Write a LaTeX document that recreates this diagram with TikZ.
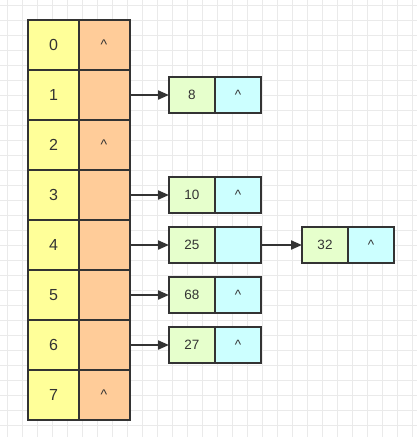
\documentclass[tikz,border=0pt]{standalone}
\usepackage{fontspec}
\setmainfont{Liberation Sans}
\usepackage{tikz}
\usetikzlibrary{arrows.meta}
\usepackage{xcolor}

\definecolor{idxfill}{HTML}{FFFF99}
\definecolor{ptrfill}{HTML}{FFCC99}
\definecolor{keyfill}{HTML}{E6FFCC}
\definecolor{nextfill}{HTML}{CCFFFF}
\definecolor{ink}{HTML}{333333}
\definecolor{gridgray}{HTML}{EAEAEA}

\begin{document}
\begin{tikzpicture}[x=1pt, y=-1pt, >={Triangle[length=11pt,width=9pt]},
  every node/.style={text=ink, inner sep=0pt, outer sep=0pt},
  cell/.style={draw=ink, line width=2pt, minimum width=51pt, minimum height=50pt, font=\fontsize{16}{16}\selectfont},
  entry/.style={draw=ink, line width=2pt, minimum width=46pt, minimum height=36pt, font=\fontsize{13.5}{13.5}\selectfont}]

% Canvas and grid
\useasboundingbox (0,0) rectangle (417,437);
\fill[white] (0,0) rectangle (417,437);
\foreach \gx in {7,22,...,412} {
  \draw[gridgray, line width=0.8pt] (\gx,0) -- (\gx,437);
}
\foreach \gy in {5,20,...,435} {
  \draw[gridgray, line width=0.8pt] (0,\gy) -- (417,\gy);
}

% Bucket table
\foreach \i in {0,...,7} {
  \node[cell, fill=idxfill] at (53.5,45+50*\i) (idx\i) {\i};
}
\foreach \i/\txt in {0/\^{},1/,2/\^{},3/,4/,5/,6/,7/\^{}} {
  \node[cell, fill=ptrfill, font=\fontsize{14}{14}\selectfont] at (104,45+50*\i) (ptr\i) {\txt};
}

% Chain entries
\foreach \i/\k in {1/8,3/10,4/25,5/68,6/27} {
  \node[entry, fill=keyfill] at (192,45+50*\i) (key\i) {\k};
  \node[entry, fill=nextfill] at (238,45+50*\i) (next\i) {\ifnum\i=4\relax\else\^{}\fi};
}

% Second entry of bucket 4
\node[entry, fill=keyfill] at (325,245) (key4b) {32};
\node[entry, fill=nextfill] at (371,245) (next4b) {\^{}};

% Connections: bucket to first entry
\foreach \i in {1,3,4,5,6} {
  \draw[->, ink, line width=2pt] (ptr\i) -- (key\i);
}

% Connection: 25 to 32
\draw[->, ink, line width=2pt] (next4) -- (key4b);

\end{tikzpicture}
\end{document}
